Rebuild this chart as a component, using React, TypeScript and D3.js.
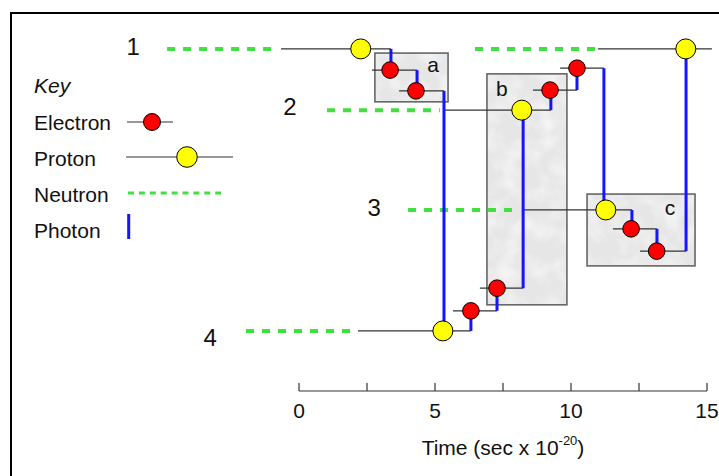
import React from "react";
import * as d3 from "d3";

// ---- data (time in 1e-20 s, energy in arbitrary level units) ----
const axisTicks = [0, 2.5, 5, 7.5, 10, 12.5, 15];
const axisLabels = [0, 5, 10, 15];

const levelLabels = [
  { label: "1", t: -6.1, e: 8.89 },
  { label: "2", t: -0.33, e: 7.3 },
  { label: "3", t: 2.76, e: 4.63 },
  { label: "4", t: -3.27, e: 1.19 },
];

const neutrons = [
  { from: -4.85, to: -0.85, e: 9.05 },
  { from: 6.47, to: 10.88, e: 9.05 },
  { from: 1.03, to: 5.18, e: 7.43 },
  { from: 4.01, to: 7.83, e: 4.79 },
  { from: -1.95, to: 1.91, e: 1.59 },
];

const protons = [
  { t: 2.27, e: 9.05, from: -0.66, to: 3.38 },
  { t: 8.19, e: 7.43, from: 5.37, to: 9.26 },
  { t: 11.28, e: 4.79, from: 8.2, to: 12.24 },
  { t: 5.29, e: 1.59, from: 2.17, to: 6.32 },
  { t: 14.22, e: 9.05, from: 10.99, to: 15.18 },
];

const electrons = [
  { t: 3.35, e: 8.49, from: 2.68, to: 4.34 },
  { t: 4.3, e: 7.94, from: 3.68, to: 5.33 },
  { t: 6.32, e: 2.12, from: 5.66, to: 7.28 },
  { t: 7.28, e: 2.72, from: 6.65, to: 8.24 },
  { t: 9.23, e: 7.96, from: 8.6, to: 10.22 },
  { t: 10.22, e: 8.54, from: 9.6, to: 11.21 },
  { t: 12.21, e: 4.29, from: 11.54, to: 13.16 },
  { t: 13.15, e: 3.7, from: 12.54, to: 14.23 },
];

const photons = [
  { t: 3.38, e1: 9.05, e2: 8.49 },
  { t: 4.34, e1: 8.49, e2: 7.94 },
  { t: 5.33, e1: 7.94, e2: 1.59 },
  { t: 6.32, e1: 1.59, e2: 2.12 },
  { t: 7.28, e1: 2.12, e2: 2.72 },
  { t: 8.24, e1: 2.72, e2: 7.43 },
  { t: 9.26, e1: 7.43, e2: 7.96 },
  { t: 10.22, e1: 7.96, e2: 8.54 },
  { t: 11.21, e1: 8.54, e2: 4.79 },
  { t: 12.24, e1: 4.79, e2: 4.29 },
  { t: 13.16, e1: 4.29, e2: 3.7 },
  { t: 14.23, e1: 3.7, e2: 9.05 },
];

const boxes = [
  { name: "a", t0: 2.79, t1: 5.48, e0: 7.65, e1: 8.94, lt: 4.93, le: 8.44 },
  { name: "b", t0: 6.91, t1: 9.85, e0: 2.28, e1: 8.39, lt: 7.46, le: 7.8 },
  { name: "c", t0: 10.59, t1: 14.56, e0: 3.31, e1: 5.21, lt: 13.64, le: 4.66 },
];

const legendItems = ["Electron", "Proton", "Neutron", "Photon"];

// ---- styles ----
const FONT = "'Liberation Sans', Arial, Helvetica, sans-serif";
const BLUE = "#1414ff";
const GREEN = "#40e040";
const LINE = "#333";

export default function App() {
  const W = 719;
  const H = 476;
  const x = d3.scaleLinear().domain([0, 15]).range([299, 707]);
  const y = d3.scaleLinear().domain([0, 10]).range([391, 13]);
  const axisY = 391;

  return (
    <svg
      width={W}
      height={H}
      style={{ position: "absolute", left: 0, top: 0, background: "#fff" }}
      fontFamily={FONT}
    >
      <defs>
        <filter id="marble" x="0" y="0" width="100%" height="100%">
          <feTurbulence type="fractalNoise" baseFrequency="0.05" numOctaves="3" seed="7" result="n" />
          <feColorMatrix
            in="n"
            type="matrix"
            values="0 0 0 0 1  0 0 0 0 1  0 0 0 0 1  1.2 0 0 0 -0.45"
            result="c"
          />
          <feComposite in="c" in2="SourceGraphic" operator="in" />
        </filter>
      </defs>
      <rect width={W} height={H} fill="#fff" />
      {/* frame */}
      <path d={`M11,${H + 2} L11,13 L${W + 2},13`} fill="none" stroke="#000" strokeWidth={2} />

      {/* boxes */}
      {boxes.map((b) => {
        const bx = x(b.t0);
        const by = y(b.e1);
        const bw = x(b.t1) - x(b.t0);
        const bh = y(b.e0) - y(b.e1);
        return (
          <g key={b.name}>
            <rect x={bx} y={by} width={bw} height={bh} fill="#e6e6e6" />
            <rect x={bx} y={by} width={bw} height={bh} fill="#fff" filter="url(#marble)" />
            <rect x={bx} y={by} width={bw} height={bh} fill="none" stroke="#666" strokeWidth={1.6} />
            <text x={x(b.lt)} y={y(b.le)} fontSize={21} textAnchor="middle" fill="#111">
              {b.name}
            </text>
          </g>
        );
      })}

      {/* neutrons */}
      {neutrons.map((n, i) => (
        <line
          key={i}
          x1={x(n.from)}
          x2={x(n.to)}
          y1={y(n.e)}
          y2={y(n.e)}
          stroke={GREEN}
          strokeWidth={4}
          strokeDasharray="8,8"
        />
      ))}

      {/* particle tracks */}
      {[...protons, ...electrons].map((p, i) => (
        <line
          key={i}
          x1={x(p.from)}
          x2={x(p.to)}
          y1={y(p.e)}
          y2={y(p.e)}
          stroke={LINE}
          strokeWidth={1.2}
        />
      ))}

      {/* photons */}
      {photons.map((p, i) => (
        <line key={i} x1={x(p.t)} x2={x(p.t)} y1={y(p.e1)} y2={y(p.e2)} stroke={BLUE} strokeWidth={3} />
      ))}

      {/* particles */}
      {protons.map((p, i) => (
        <circle key={i} cx={x(p.t)} cy={y(p.e)} r={10} fill="#ffff00" stroke="#000" strokeWidth={1} />
      ))}
      {electrons.map((p, i) => (
        <circle key={i} cx={x(p.t)} cy={y(p.e)} r={8.3} fill="#ff0000" stroke="#000" strokeWidth={1} />
      ))}

      {/* level labels */}
      {levelLabels.map((l) => (
        <text key={l.label} x={x(l.t)} y={y(l.e)} fontSize={24} textAnchor="middle" fill="#111">
          {l.label}
        </text>
      ))}

      {/* axis */}
      <line x1={x(0)} x2={x(15)} y1={axisY} y2={axisY} stroke={LINE} strokeWidth={1.2} />
      {axisTicks.map((t) => (
        <line key={t} x1={x(t)} x2={x(t)} y1={axisY - 8} y2={axisY} stroke={LINE} strokeWidth={1.2} />
      ))}
      {axisLabels.map((t) => (
        <text key={t} x={x(t)} y={418} fontSize={21} textAnchor="middle" fill="#111">
          {t}
        </text>
      ))}
      <text x={503} y={455} fontSize={21} textAnchor="middle" fill="#111">
        Time (sec x 10
        <tspan fontSize={13} dy={-10}>
          -20
        </tspan>
        <tspan dy={10}>)</tspan>
      </text>

      {/* legend */}
      <text x={34} y={93} fontSize={21} fontStyle="italic" fill="#111">
        Key
      </text>
      {legendItems.map((name, i) => (
        <text key={name} x={34} y={130 + i * 36} fontSize={21} fill="#111">
          {name}
        </text>
      ))}
      <line x1={127} x2={173} y1={122} y2={122} stroke={LINE} strokeWidth={1.2} />
      <circle cx={152} cy={122} r={8.5} fill="#ff0000" stroke="#000" strokeWidth={1} />
      <line x1={126} x2={233} y1={157} y2={157} stroke={LINE} strokeWidth={1.2} />
      <circle cx={187} cy={157} r={10.3} fill="#ffff00" stroke="#000" strokeWidth={1} />
      <line x1={128} x2={221} y1={193} y2={193} stroke={GREEN} strokeWidth={3} strokeDasharray="6,4.9" />
      <line x1={128.7} x2={128.7} y1={214} y2={239} stroke={BLUE} strokeWidth={3} />
    </svg>
  );
}
